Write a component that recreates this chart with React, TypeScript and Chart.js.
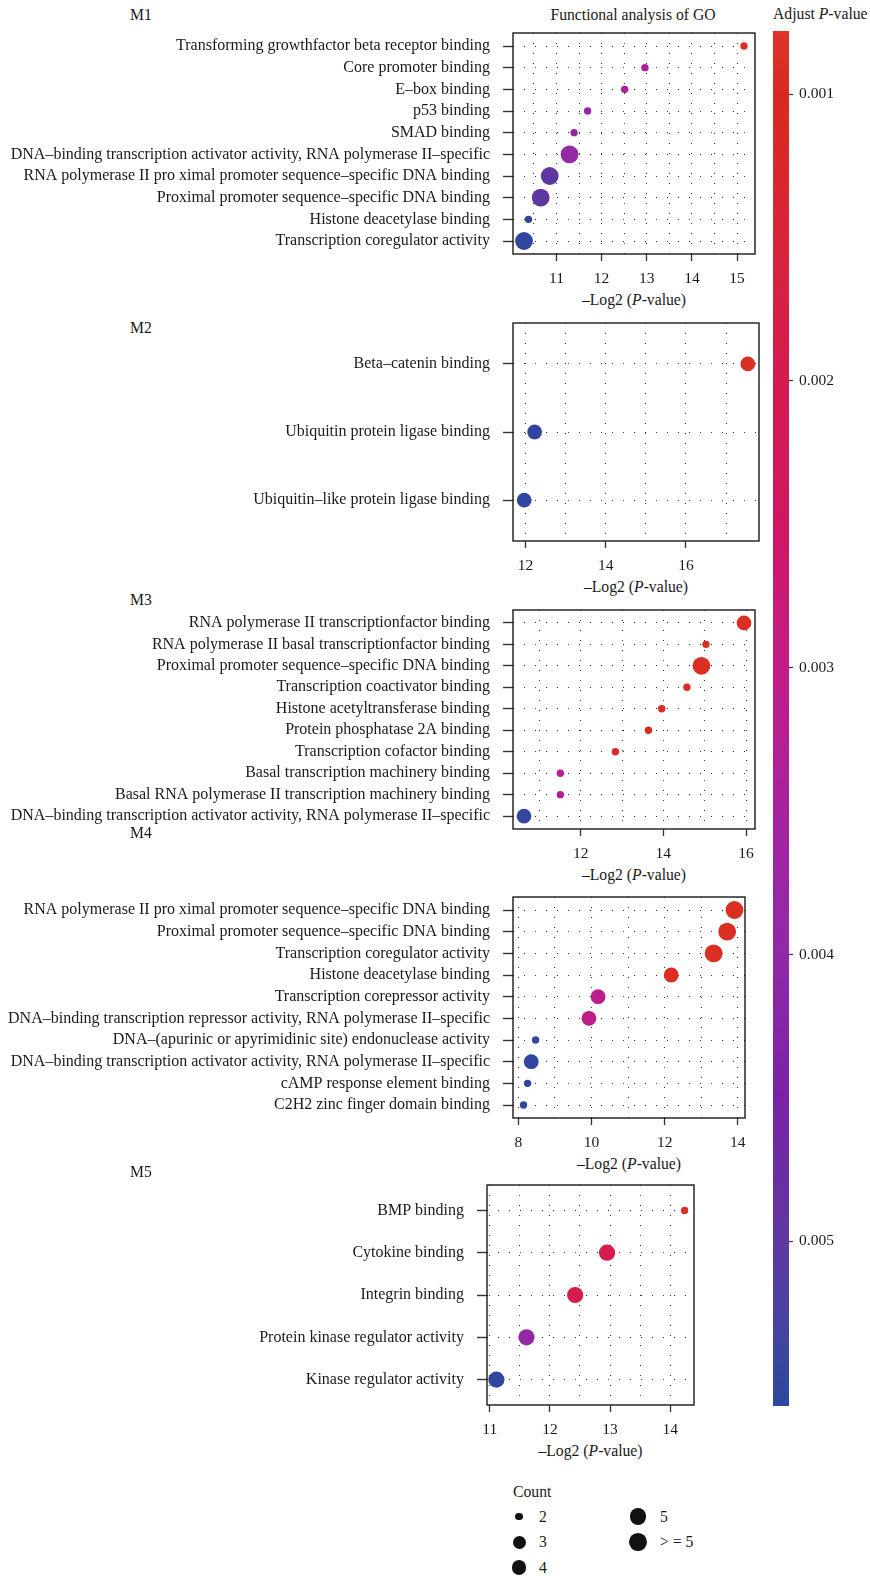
import React, { useEffect, useRef } from 'react';
import { Chart, registerables } from 'chart.js';
Chart.register(...registerables);

const FONT = '"Liberation Serif", "Times New Roman", serif';
const TXT = '#1a1a1a';

// ---------- data ----------
const m1Terms = [
  'Transforming growthfactor beta receptor binding',
  'Core promoter binding',
  'E–box binding',
  'p53 binding',
  'SMAD binding',
  'DNA–binding transcription activator activity, RNA polymerase II–specific',
  'RNA polymerase II pro ximal promoter sequence–specific DNA binding',
  'Proximal promoter sequence–specific DNA binding',
  'Histone deacetylase binding',
  'Transcription coregulator activity',
];
const m1Log2P = [15.155, 12.96, 12.51, 11.69, 11.39, 11.29, 10.85, 10.65, 10.38, 10.28];
const m1Count = [2, 2, 2, 2, 2, 6, 6, 6, 2, 6];
const m1Padj = [0.0009, 0.0034, 0.0034, 0.0038, 0.0038, 0.0039, 0.005, 0.005, 0.0055, 0.0055];

const m2Terms = [
  'Beta–catenin binding',
  'Ubiquitin protein ligase binding',
  'Ubiquitin–like protein ligase binding',
];
const m2Log2P = [17.54, 12.23, 11.97];
const m2Count = [4, 4, 4];
const m2Padj = [0.0009, 0.0055, 0.0055];

const m3Terms = [
  'RNA polymerase II transcriptionfactor binding',
  'RNA polymerase II basal transcriptionfactor binding',
  'Proximal promoter sequence–specific DNA binding',
  'Transcription coactivator binding',
  'Histone acetyltransferase binding',
  'Protein phosphatase 2A binding',
  'Transcription cofactor binding',
  'Basal transcription machinery binding',
  'Basal RNA polymerase II transcription machinery binding',
  'DNA–binding transcription activator activity, RNA polymerase II–specific',
];
const m3Log2P = [15.95, 15.03, 14.92, 14.57, 13.96, 13.64, 12.84, 11.51, 11.51, 10.63];
const m3Count = [4, 2, 6, 2, 2, 2, 2, 2, 2, 4];
const m3Padj = [0.0009, 0.0009, 0.0009, 0.0009, 0.0009, 0.001, 0.0013, 0.0033, 0.0033, 0.0055];

const m4Terms = [
  'RNA polymerase II pro ximal promoter sequence–specific DNA binding',
  'Proximal promoter sequence–specific DNA binding',
  'Transcription coregulator activity',
  'Histone deacetylase binding',
  'Transcription corepressor activity',
  'DNA–binding transcription repressor activity, RNA polymerase II–specific',
  'DNA–(apurinic or apyrimidinic site) endonuclease activity',
  'DNA–binding transcription activator activity, RNA polymerase II–specific',
  'cAMP response element binding',
  'C2H2 zinc finger domain binding',
];
const m4Log2P = [13.91, 13.71, 13.34, 12.18, 10.18, 9.93, 8.47, 8.35, 8.25, 8.14];
const m4Count = [6, 6, 6, 4, 4, 4, 2, 4, 2, 2];
const m4Padj = [0.0009, 0.0009, 0.0009, 0.0009, 0.0031, 0.0031, 0.0055, 0.0055, 0.0055, 0.0055];

const m5Terms = [
  'BMP binding',
  'Cytokine binding',
  'Integrin binding',
  'Protein kinase regulator activity',
  'Kinase regulator activity',
];
const m5Log2P = [14.24, 12.95, 12.42, 11.61, 11.11];
const m5Count = [2, 5, 5, 5, 5];
const m5Padj = [0.0009, 0.0019, 0.0019, 0.0039, 0.0055];

const padjRange = [0.00078, 0.005574];
const colorbarTicks = [0.001, 0.002, 0.003, 0.004, 0.005];
const countLevels = [2, 3, 4, 5, 6];
const countLabels = ['2', '3', '4', '5', '> = 5'];

// ---------- scales / styles ----------
const colorStops: [number, string][] = [
  [0.00078, '#DD3427'],
  [0.001, '#D92A1F'],
  [0.0015, '#D9243A'],
  [0.002, '#D41A4F'],
  [0.0025, '#CF1762'],
  [0.003, '#C21C85'],
  [0.0035, '#A6229F'],
  [0.004, '#9029A8'],
  [0.0045, '#7A22A6'],
  [0.005, '#5E38A0'],
  [0.0053, '#4545A0'],
  [0.00557, '#2C479E'],
];
function hex(c: string) {
  return [1, 3, 5].map((i) => parseInt(c.slice(i, i + 2), 16));
}
function colorFor(p: number) {
  if (p <= colorStops[0][0]) return colorStops[0][1];
  for (let i = 1; i < colorStops.length; i++) {
    const [p1, c1] = colorStops[i];
    const [p0, c0] = colorStops[i - 1];
    if (p <= p1) {
      const t = (p - p0) / (p1 - p0);
      const a = hex(c0), b = hex(c1);
      const m = a.map((v, k) => Math.round(v + (b[k] - v) * t));
      return `rgb(${m[0]},${m[1]},${m[2]})`;
    }
  }
  return colorStops[colorStops.length - 1][1];
}
const radiusMap: Record<number, number> = { 2: 3.7, 3: 6.5, 4: 7.4, 5: 8.1, 6: 8.9 };
const radiusFor = (c: number) => radiusMap[c] ?? 8.9;

type PanelCfg = {
  name: string;
  terms: string[];
  x: number[];
  count: number[];
  padj: number[];
  box: { l: number; r: number; t: number; b: number };
  gridStep: number;
  labelStep: number;
  nameY: number;
};

const panels: PanelCfg[] = [
  { name: 'M1', terms: m1Terms, x: m1Log2P, count: m1Count, padj: m1Padj, box: { l: 513, r: 755, t: 33, b: 254 }, gridStep: 0.5, labelStep: 1, nameY: 15 },
  { name: 'M2', terms: m2Terms, x: m2Log2P, count: m2Count, padj: m2Padj, box: { l: 513, r: 759, t: 323, b: 541 }, gridStep: 1, labelStep: 2, nameY: 328 },
  { name: 'M3', terms: m3Terms, x: m3Log2P, count: m3Count, padj: m3Padj, box: { l: 513, r: 755, t: 610, b: 829 }, gridStep: 1, labelStep: 2, nameY: 600 },
  { name: 'M4', terms: m4Terms, x: m4Log2P, count: m4Count, padj: m4Padj, box: { l: 513, r: 745, t: 897, b: 1118 }, gridStep: 1, labelStep: 2, nameY: 833 },
  { name: 'M5', terms: m5Terms, x: m5Log2P, count: m5Count, padj: m5Padj, box: { l: 487, r: 694, t: 1185, b: 1405 }, gridStep: 0.5, labelStep: 1, nameY: 1172 },
];

const PAD_T = 10;
const PAD_R = 12;
const X_AXIS_H = 36;

const boxPlugin = {
  id: 'panelBox',
  afterDatasetsDraw(chart: any) {
    const { ctx, chartArea: a } = chart;
    ctx.save();
    ctx.strokeStyle = '#1a1a1a';
    ctx.lineWidth = 1.4;
    ctx.strokeRect(a.left, a.top, a.right - a.left, a.bottom - a.top);
    ctx.restore();
  },
};

function Panel({ cfg }: { cfg: PanelCfg }) {
  const ref = useRef<HTMLCanvasElement>(null);
  const { box } = cfg;
  const width = box.r + PAD_R;
  const height = box.b - box.t + PAD_T + X_AXIS_H;
  useEffect(() => {
    const { terms, x, count, padj, gridStep, labelStep } = cfg;
    const n = terms.length;
    const lo = Math.min(...x), hi = Math.max(...x), span = hi - lo;
    const xmin = lo - 0.05 * span, xmax = hi + 0.05 * span;
    const isLabel = (v: number) => Math.abs(v / labelStep - Math.round(v / labelStep)) < 1e-6;
    const chart = new Chart(ref.current as HTMLCanvasElement, {
      type: 'bubble',
      data: {
        datasets: [
          {
            data: x.map((v, i) => ({ x: v, y: i + 1, r: radiusFor(count[i]) })),
            backgroundColor: padj.map(colorFor),
            borderWidth: 0,
          },
        ],
      },
      options: {
        animation: false,
        responsive: false,
        events: [],
        layout: { autoPadding: false, padding: { top: PAD_T, right: PAD_R, left: 0, bottom: 0 } },
        plugins: { legend: { display: false }, tooltip: { enabled: false } },
        scales: {
          x: {
            type: 'linear',
            min: xmin,
            max: xmax,
            bounds: 'data',
            afterBuildTicks: (s: any) => {
              const ticks = [];
              for (let k = Math.ceil(xmin / gridStep - 1e-9); k * gridStep <= xmax + 1e-9; k++) {
                ticks.push({ value: +(k * gridStep).toFixed(4) });
              }
              s.ticks = ticks;
            },
            afterFit: (s: any) => {
              s.height = X_AXIS_H;
              s.paddingLeft = 0;
              s.paddingRight = 0;
            },
            ticks: {
              autoSkip: false,
              maxRotation: 0,
              padding: 8.5,
              color: TXT,
              font: { family: FONT, size: 15.5 },
              callback: (v: any) => (isLabel(v) ? String(v) : ''),
            },
            grid: {
              color: '#333',
              lineWidth: 1,
              tickLength: 7,
              tickWidth: 1.3,
              tickBorderDash: [],
              tickColor: (c: any) => (c.tick && isLabel(c.tick.value) ? '#333' : 'rgba(0,0,0,0)'),
            },
            border: { display: false, dash: [1, 9] },
          },
          y: {
            type: 'linear',
            reverse: true,
            min: 0.4,
            max: n + 0.6,
            bounds: 'data',
            afterBuildTicks: (s: any) => { s.ticks = terms.map((_, i) => ({ value: i + 1 })); },
            afterFit: (s: any) => {
              s.width = box.l;
              s.paddingTop = 0;
              s.paddingBottom = 0;
            },
            ticks: {
              autoSkip: false,
              padding: 13,
              color: TXT,
              font: { family: FONT, size: 16 },
              callback: (v: any) => terms[Math.round(v) - 1] ?? '',
            },
            grid: {
              color: '#333',
              lineWidth: 1,
              tickLength: 10,
              tickWidth: 1.4,
              tickColor: '#333',
              tickBorderDash: [],
            },
            border: { display: false, dash: [1, 10] },
          },
        },
      } as any,
      plugins: [boxPlugin],
    });
    return () => chart.destroy();
  }, []);
  return (
    <canvas
      ref={ref}
      width={width}
      height={height}
      style={{ position: 'absolute', left: 0, top: box.t - PAD_T, width, height }}
    />
  );
}

function ColorBar() {
  const ref = useRef<HTMLCanvasElement>(null);
  const W = 110, H = 1400, LEFT = 760, TOP = 20;
  useEffect(() => {
    const chart = new Chart(ref.current as HTMLCanvasElement, {
      type: 'bar',
      data: {
        labels: [''],
        datasets: [
          {
            data: [padjRange as any],
            barPercentage: 1,
            categoryPercentage: 1,
            borderWidth: 0,
            inflateAmount: 0,
            backgroundColor: (c: any) => {
              const ch = c.chart;
              const a = ch.chartArea;
              if (!a) return '#999';
              const ys = ch.scales.y;
              const y0 = ys.getPixelForValue(padjRange[0]);
              const y1 = ys.getPixelForValue(padjRange[1]);
              const g = ch.ctx.createLinearGradient(0, y0, 0, y1);
              colorStops.forEach(([p, col]) => {
                const t = (ys.getPixelForValue(p) - y0) / (y1 - y0);
                g.addColorStop(Math.min(1, Math.max(0, t)), col);
              });
              return g;
            },
          },
        ],
      },
      options: {
        animation: false,
        responsive: false,
        events: [],
        layout: { autoPadding: false, padding: { top: 11, left: 13, right: 0, bottom: 14 } },
        plugins: { legend: { display: false }, tooltip: { enabled: false } },
        scales: {
          x: { display: false },
          y: {
            position: 'right',
            reverse: true,
            min: padjRange[0],
            max: padjRange[1],
            bounds: 'data',
            afterBuildTicks: (s: any) => { s.ticks = colorbarTicks.map((v) => ({ value: v })); },
            afterFit: (s: any) => {
              s.width = W - 29;
              s.paddingTop = 0;
              s.paddingBottom = 0;
            },
            ticks: {
              padding: 6,
              color: TXT,
              font: { family: FONT, size: 15.5 },
              callback: (v: any) => Number(v).toFixed(3),
            },
            grid: { drawOnChartArea: false, tickLength: 4, tickColor: '#333', tickWidth: 1.2 },
            border: { display: false },
          },
        },
      } as any,
    });
    return () => chart.destroy();
  }, []);
  return (
    <canvas ref={ref} width={W} height={H} style={{ position: 'absolute', left: LEFT, top: TOP, width: W, height: H }} />
  );
}

function Txt({ x, y, align = 'left', children }: { x: number; y: number; align?: 'left' | 'center'; children: any }) {
  return (
    <div
      style={{
        position: 'absolute',
        left: x,
        top: y - 9,
        lineHeight: '18px',
        fontFamily: FONT,
        fontSize: 15.7,
        color: TXT,
        whiteSpace: 'nowrap',
        transform: align === 'center' ? 'translateX(-50%)' : undefined,
      }}
    >
      {children}
    </div>
  );
}

const AxisTitle = () => (
  <>
    –Log2 (<i>P</i>-value)
  </>
);

export default function App() {
  return (
    <div style={{ position: 'absolute', left: 0, top: 0, width: 870, height: 1576, background: '#fff', overflow: 'hidden' }}>
      <Txt x={633} y={15} align="center">Functional analysis of GO</Txt>
      <Txt x={773} y={14}>Adjust <i>P</i>-value</Txt>
      {panels.map((p) => (
        <React.Fragment key={p.name}>
          <Txt x={130} y={p.nameY}>{p.name}</Txt>
          <Panel cfg={p} />
          <Txt x={(p.box.l + p.box.r) / 2} y={p.box.b + 46} align="center"><AxisTitle /></Txt>
        </React.Fragment>
      ))}
      <ColorBar />
      <Txt x={513} y={1492}>Count</Txt>
      {countLevels.map((c, i) => {
        const col = i < 3 ? 0 : 1;
        const row = i < 3 ? i : i - 3;
        const cx = col === 0 ? 519 : 638;
        const cy = 1516.5 + row * 25.5;
        const r = radiusFor(c);
        return (
          <React.Fragment key={c}>
            <div
              style={{
                position: 'absolute',
                left: cx - r,
                top: cy - r,
                width: 2 * r,
                height: 2 * r,
                borderRadius: '50%',
                background: '#111',
              }}
            />
            <Txt x={col === 0 ? 539 : 660} y={cy}>{countLabels[i]}</Txt>
          </React.Fragment>
        );
      })}
    </div>
  );
}
